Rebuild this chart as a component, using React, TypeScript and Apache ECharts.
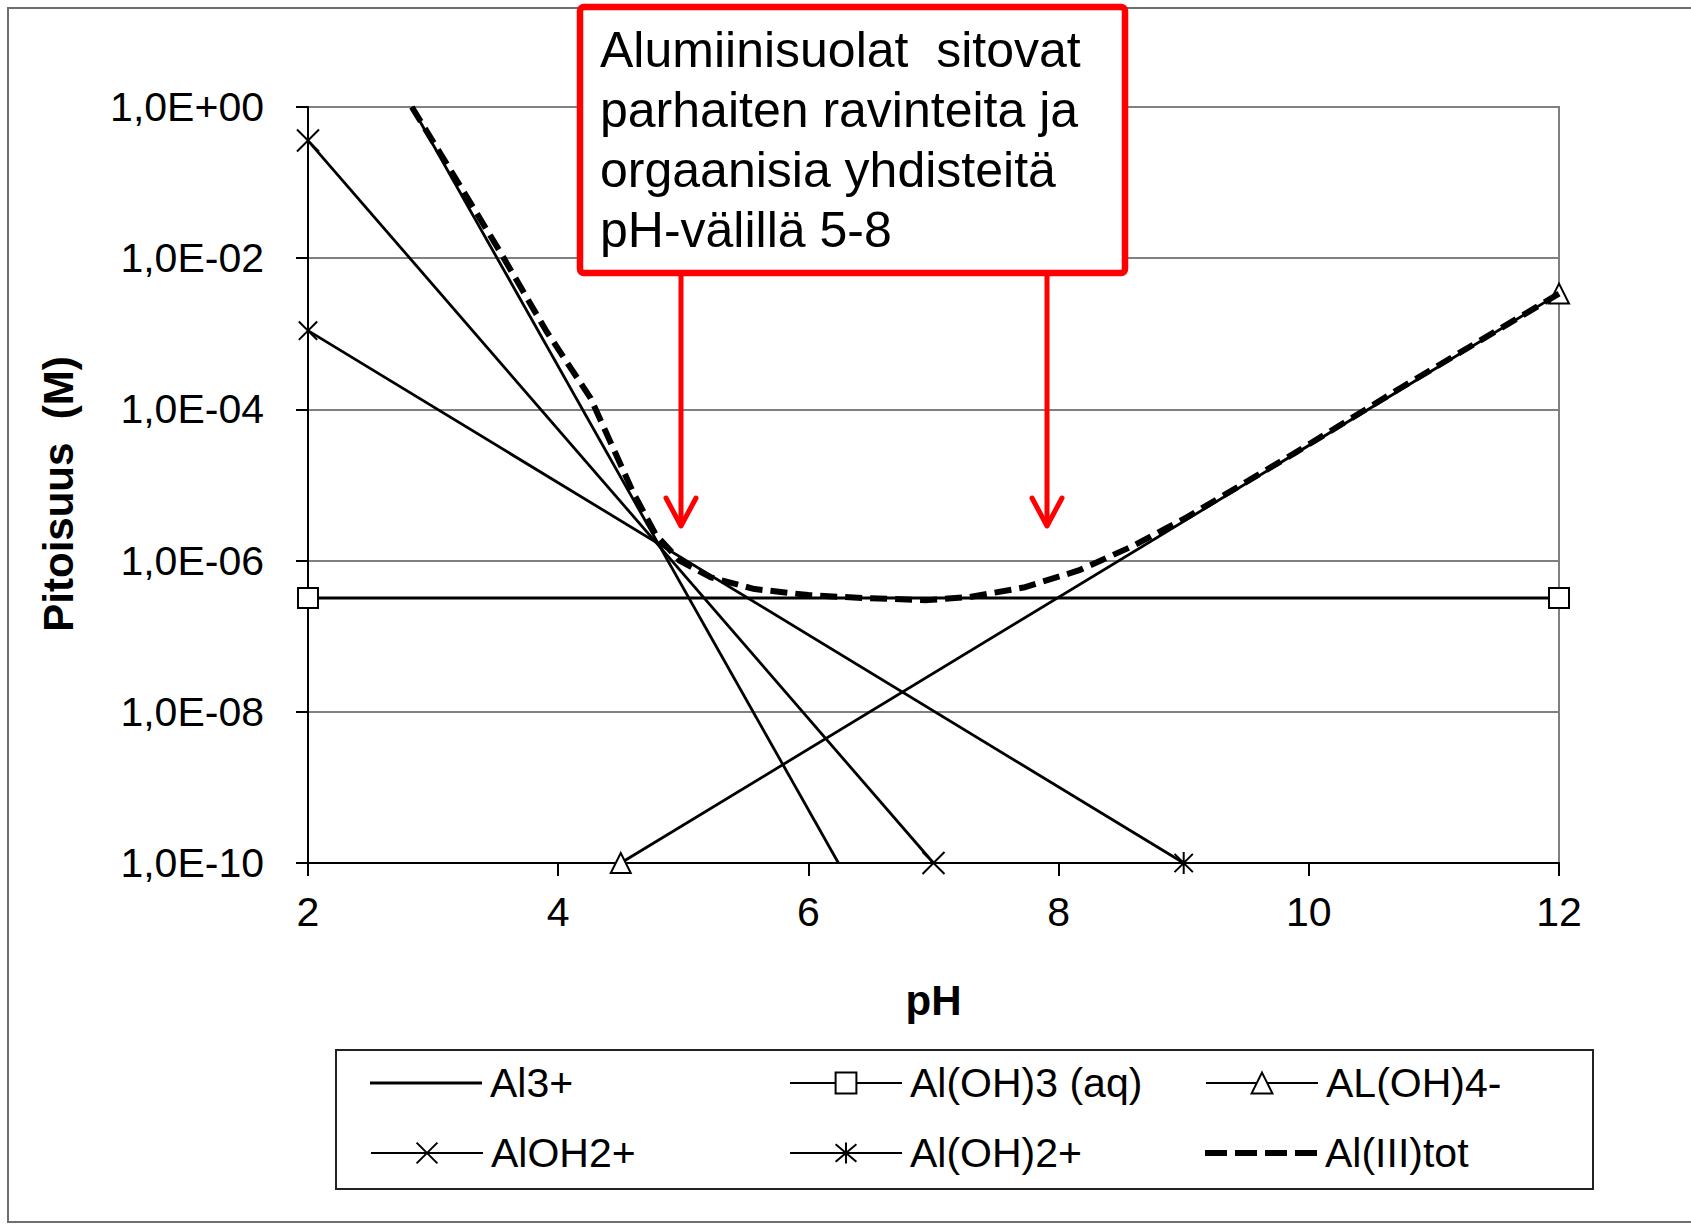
import React, { useEffect, useRef } from "react";
import * as echarts from "echarts";

const FONT = '"Liberation Sans", Arial, Helvetica, sans-serif';

// ---- data (x = pH, y = concentration M) ----
const seriesNames = ["Al3+", "Al(OH)3 (aq)", "AL(OH)4-", "AlOH2+", "Al(OH)2+", "Al(III)tot"];

const pHAl3 = [2.83, 6.24];
const cAl3 = [1.0, 1e-10];

const pHAlOH3aq = [2, 12];
const cAlOH3aq = [3.2e-7, 3.2e-7];

const pHAlOH4 = [4.5, 12];
const cAlOH4 = [1e-10, 3.4e-3];

const pHAlOH2plus = [2, 7];
const cAlOH2plus = [0.36, 1e-10];

const pHAlOH2 = [2, 9];
const cAlOH2 = [1.1e-3, 1e-10];

const pHTot = [2.83, 3.2, 3.53, 3.9, 4.26, 4.6, 4.78, 4.97, 5.22, 5.57, 6.0, 6.43, 6.95, 7.29, 7.72, 8.16, 8.59, 9.02, 9.45, 9.88, 10.74, 12];
const cTot = [1.0, 1.0e-1, 1.26e-2, 1.12e-3, 1.4e-4, 7.9e-6, 2.2e-6, 1.0e-6, 6.0e-7, 4.2e-7, 3.5e-7, 3.2e-7, 3.0e-7, 3.3e-7, 4.4e-7, 7.4e-7, 1.55e-6, 3.7e-6, 9.8e-6, 2.6e-5, 1.95e-4, 3.4e-3];

const yTickLabels = ["1,0E+00", "1,0E-02", "1,0E-04", "1,0E-06", "1,0E-08", "1,0E-10"];

const annotationLines = [
  "Alumiinisuolat  sitovat",
  "parhaiten ravinteita ja",
  "orgaanisia yhdisteitä",
  "pH-välillä 5-8",
];

// ---- layout (pixels) ----
const legendCols = [370, 789, 1205];
const legendRowCenters = [1083, 1153];

const pair = (xs: number[], ys: number[]) => xs.map((x, i) => [x, ys[i]]);

const CROSS = "path://M0,0L10,10M10,0L0,10";
const STAR = "path://M1,1L11,11M11,1L1,11M6,0L6,12";
const LEGEND_SOLID = "path://M0,0h112v3h-112z";
const LEGEND_DASH = "path://M0,0h22v6h-22zM30,0h22v6h-22zM60,0h22v6h-22zM90,0h22v6h-22z";

function buildOption() {
  const base = (name: string, data: number[][], symbol: string, size: any, z = 3) => ({
    name,
    type: "line",
    data,
    symbol,
    symbolSize: size,
    symbolKeepAspect: true,
    showSymbol: symbol !== "none",
    clip: false,
    z,
    lineStyle: { color: "#000", width: 2.8 },
    itemStyle: { color: "#fff", borderColor: "#000", borderWidth: 2 },
    emphasis: { disabled: true },
  });

  const series: any[] = [
    base(seriesNames[0], pair(pHAl3, cAl3), "none", 0),
    base(seriesNames[1], pair(pHAlOH3aq, cAlOH3aq), "rect", 20),
    base(seriesNames[2], pair(pHAlOH4, cAlOH4), "triangle", 20),
    base(seriesNames[3], pair(pHAlOH2plus, cAlOH2plus), CROSS, 22),
    base(seriesNames[4], pair(pHAlOH2, cAlOH2), STAR, 22),
    {
      ...base(seriesNames[5], pair(pHTot, cTot), "none", 0, 5),
      lineStyle: { color: "#000", width: 6, type: [17, 8] },
    },
  ];

  const legends = seriesNames.map((n, i) => {
    const special = i === 0 ? LEGEND_SOLID : i === 5 ? LEGEND_DASH : null;
    const l: any = {
      data: [n],
      left: legendCols[i % 3],
      top: legendRowCenters[Math.floor(i / 3)] - 23,
      orient: "horizontal",
      padding: 0,
      itemWidth: 112,
      itemHeight: 26,
      itemGap: 0,
      selectedMode: false,
      textStyle: { fontSize: 41, color: "#000", fontFamily: FONT, lineHeight: 46, padding: [0, 0, 0, 3] },
    };
    if (special) {
      l.icon = special;
      l.itemHeight = i === 0 ? 3 : 6;
      l.itemStyle = { color: "#000", borderWidth: 0 };
    }
    return l;
  });

  const arrow = (x: number) => [
    {
      type: "line",
      z: 100,
      shape: { x1: x, y1: 276, x2: x, y2: 524 },
      style: { stroke: "#ff0000", lineWidth: 5 },
    },
    {
      type: "polyline",
      z: 100,
      shape: { points: [[x - 15, 498], [x, 526], [x + 15, 498]] },
      style: { stroke: "#ff0000", lineWidth: 5, fill: "none", lineJoin: "round", lineCap: "round" },
    },
  ];

  return {
    animation: false,
    backgroundColor: "#fff",
    textStyle: { fontFamily: FONT },
    grid: {
      left: 308,
      right: 132,
      top: 107,
      bottom: 361,
      show: true,
      borderColor: "#808080",
      borderWidth: 2,
      backgroundColor: "transparent",
      outerBoundsMode: "none",
    },
    xAxis: {
      type: "value",
      min: 2,
      max: 12,
      interval: 2,
      name: "pH",
      nameLocation: "middle",
      nameGap: 116,
      nameTextStyle: { fontSize: 42, fontWeight: "bold", color: "#000", fontFamily: FONT },
      axisLine: { show: true, onZero: false, lineStyle: { color: "#000", width: 2 } },
      axisTick: { show: true, length: 13, lineStyle: { color: "#000", width: 2 } },
      axisLabel: { fontSize: 41, color: "#000", fontFamily: FONT, margin: 28 },
      splitLine: { show: false },
    },
    yAxis: {
      type: "log",
      logBase: 100,
      min: 1e-10,
      max: 1,
      splitNumber: 5,
      name: "Pitoisuus  (M)",
      nameLocation: "middle",
      nameGap: 229,
      nameTextStyle: {
        fontSize: 42,
        fontWeight: "bold",
        color: "#000",
        fontFamily: FONT,
        padding: [0, 18, 0, 0],
      },
      axisLine: { show: true, lineStyle: { color: "#000", width: 2 } },
      axisTick: { show: true, length: 12, lineStyle: { color: "#000", width: 2 } },
      axisLabel: {
        fontSize: 41,
        color: "#000",
        fontFamily: FONT,
        margin: 44,
        formatter: (v: number) => {
          const k = Math.round(-Math.log10(v) / 2);
          return yTickLabels[k] ?? "";
        },
      },
      splitLine: { show: true, lineStyle: { color: "#808080", width: 2 } },
      minorTick: { show: false },
    },
    legend: legends,
    series,
    graphic: [
      {
        type: "rect",
        z: -10,
        silent: true,
        shape: { x: 8, y: 8, width: 1700, height: 1214 },
        style: { fill: "none", stroke: "#6e6e6e", lineWidth: 2 },
      },
      {
        type: "rect",
        z: 1,
        silent: true,
        shape: { x: 336, y: 1050, width: 1257, height: 139 },
        style: { fill: "none", stroke: "#222", lineWidth: 2 },
      },
      {
        type: "rect",
        z: 100,
        silent: true,
        shape: { x: 580, y: 7, width: 545, height: 266, r: 4 },
        style: { fill: "#fff", stroke: "#ff0000", lineWidth: 6.5 },
      },
      {
        type: "text",
        z: 101,
        silent: true,
        x: 600,
        y: 20,
        style: {
          text: annotationLines.join("\n"),
          fontSize: 50,
          fontFamily: FONT,
          lineHeight: 60,
          fill: "#000",
          align: "left",
          verticalAlign: "top",
        },
      },
      ...arrow(681),
      ...arrow(1047),
    ],
  };
}

export default function App() {
  const ref = useRef<HTMLDivElement>(null);
  useEffect(() => {
    if (!ref.current) return;
    const chart = echarts.init(ref.current, null, { renderer: "svg" });
    chart.setOption(buildOption() as any);
    return () => chart.dispose();
  }, []);
  return (
    <div
      ref={ref}
      style={{ position: "absolute", left: 0, top: 0, width: 1691, height: 1224, background: "#fff" }}
    />
  );
}
